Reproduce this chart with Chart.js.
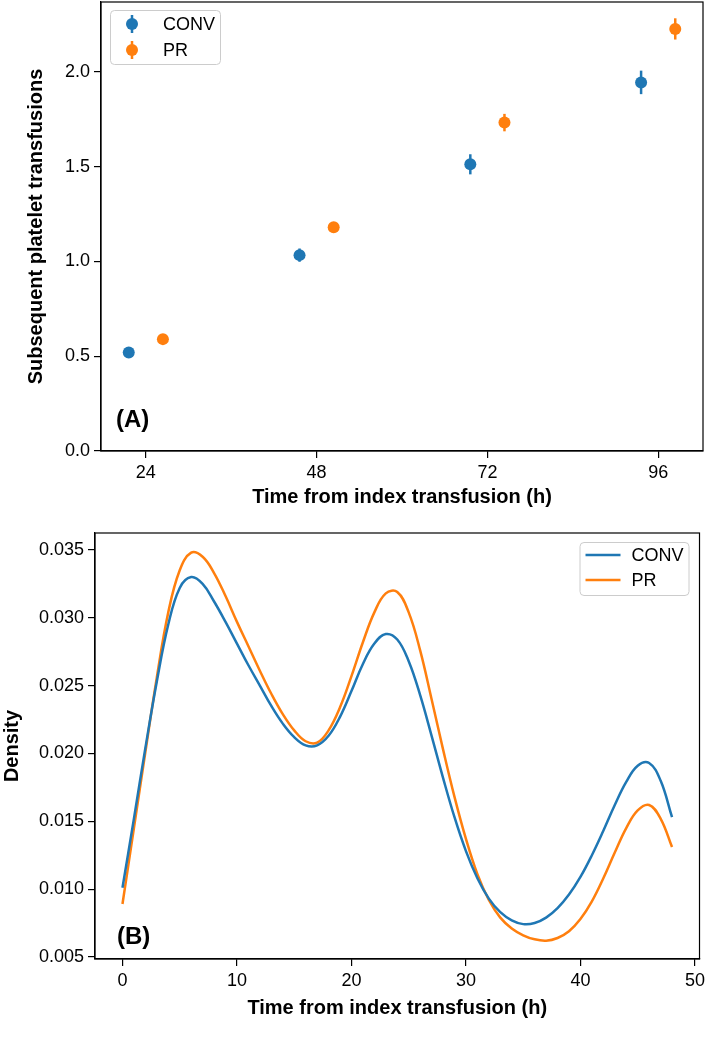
<!DOCTYPE html>
<html>
<head>
<meta charset="utf-8">
<script src="https://cdn.jsdelivr.net/npm/chart.js@4.4.1/dist/chart.umd.min.js"></script>
<style>
  body { margin: 0; background: #fff; overflow: hidden; }
  .panel { position: absolute; left: 0; width: 709px; }
  #panelA { top: -4px; height: 524px; }
  #panelB { top: 520px; height: 532px; }
</style>
</head>
<body>
<div class="panel" id="panelA"><canvas id="chartA" width="709" height="524"></canvas></div>
<div class="panel" id="panelB"><canvas id="chartB" width="709" height="532"></canvas></div>
<script>
// ---- panel A: mean subsequent transfusions with error bars ----
const convTimeA = [21.6, 45.6, 69.6, 93.6];
const prTimeA = [26.4, 50.4, 74.4, 98.4];
const convMeanA = [0.52, 1.033, 1.512, 1.944];
const prMeanA = [0.59, 1.18, 1.732, 2.226];
const convErrA = [0.02, 0.035, 0.053, 0.062];
const prErrA = [0.02, 0.025, 0.046, 0.056];
const xTicksA = [24, 48, 72, 96];
const yTicksA = [0, 0.5, 1.0, 1.5, 2.0];

// ---- panel B: density of transfusion times ----
const hoursB = [0, 1, 2, 3, 4, 5, 6, 7, 8, 9, 10, 11, 12, 13, 14, 15, 16, 17, 18, 19, 20,
  21, 22, 23, 24, 25, 26, 27, 28, 29, 30, 31, 32, 33, 34, 35, 36, 37, 38, 39, 40,
  41, 42, 43, 44, 45, 46, 47, 48];
const convDensity = [0.0101, 0.0152, 0.0204, 0.0253, 0.0295, 0.0322, 0.0330, 0.0325, 0.0312, 0.0297,
  0.0281, 0.0265, 0.0250, 0.0235, 0.0222, 0.0212, 0.0206, 0.0206, 0.0213, 0.0227,
  0.0246, 0.0266, 0.0281, 0.0288, 0.0284, 0.0268, 0.0243, 0.0213, 0.0182, 0.0153,
  0.0128, 0.0108, 0.0093, 0.0083, 0.0077, 0.00742, 0.0075, 0.0079, 0.0086, 0.0096,
  0.0109, 0.0125, 0.0143, 0.0162, 0.0179, 0.0191, 0.0193, 0.0180, 0.0153];
const prDensity = [0.0089, 0.0145, 0.0201, 0.0256, 0.0304, 0.0335, 0.0348, 0.0345, 0.0333, 0.0316,
  0.0297, 0.0279, 0.0261, 0.0244, 0.0229, 0.0217, 0.0209, 0.0208, 0.0217, 0.0234,
  0.0257, 0.0282, 0.0304, 0.0318, 0.0319, 0.0304, 0.0276, 0.0240, 0.0203, 0.0168,
  0.0137, 0.0111, 0.0092, 0.0079, 0.0071, 0.0066, 0.0063, 0.0062, 0.0064, 0.0069,
  0.0078, 0.0091, 0.0108, 0.0127, 0.0145, 0.0158, 0.0162, 0.0152, 0.0131];
const xTicksB = [0, 10, 20, 30, 40, 50];
const yTicksB = [0.005, 0.010, 0.015, 0.020, 0.025, 0.030, 0.035];

const BLUE = "#1f77b4";
const ORANGE = "#ff7f0e";
const FONT = "'Liberation Sans', Arial, sans-serif";

Chart.defaults.font.family = FONT;
Chart.defaults.color = "#000";
Chart.defaults.animation = false;

function axis(min, max, ticks, fmt, title, titlePad, size, horizontal) {
  return {
    type: "linear",
    min: min,
    max: max,
    afterBuildTicks: (s) => { s.ticks = ticks.map(v => ({ value: v })); },
    afterFit: (s) => {
      if (horizontal) {
        s.height = size;
      } else {
        s.width = size;
        s.paddingTop = 0;
        s.paddingBottom = 0;
      }
    },
    grid: { display: true, drawOnChartArea: false, drawTicks: true, tickLength: 7, color: "#000", lineWidth: 1.2 },
    border: { display: true, color: "#000", width: 1.2 },
    ticks: { color: "#000", font: { size: 18 }, padding: 4, maxRotation: 0, autoSkip: false,
      callback: (v) => fmt(v) },
    title: { display: true, text: title, color: "#000", font: { size: 20, weight: "bold" }, padding: titlePad }
  };
}

// black frame round the plot area
const frame = {
  id: "frame",
  afterDraw(c) {
    const { ctx, chartArea: a } = c;
    ctx.save();
    ctx.strokeStyle = "#000";
    ctx.lineWidth = 1.2;
    ctx.strokeRect(a.left, a.top, a.right - a.left, a.bottom - a.top);
    ctx.restore();
  }
};

// vertical error bars, drawn under the markers
const errorBars = {
  id: "errorBars",
  beforeDatasetsDraw(c) {
    const { ctx, scales: { x, y } } = c;
    c.data.datasets.forEach((ds) => {
      if (!ds.errors) return;
      ctx.save();
      ctx.strokeStyle = ds.backgroundColor;
      ctx.lineWidth = 2.5;
      ds.data.forEach((p, i) => {
        const px = x.getPixelForValue(p.x);
        ctx.beginPath();
        ctx.moveTo(px, y.getPixelForValue(p.y - ds.errors[i]));
        ctx.lineTo(px, y.getPixelForValue(p.y + ds.errors[i]));
        ctx.stroke();
      });
      ctx.restore();
    });
  }
};

function boxLegend(id, place, drawMarker) {
  return {
    id: id,
    afterDraw(c) {
      const ctx = c.ctx;
      const b = place(c.chartArea);
      ctx.save();
      ctx.fillStyle = "rgba(255,255,255,0.8)";
      ctx.strokeStyle = "#cccccc";
      ctx.lineWidth = 1;
      ctx.beginPath();
      ctx.roundRect(b.x + 0.5, b.y + 0.5, b.w, b.h, 4);
      ctx.fill();
      ctx.stroke();
      ctx.font = "18px " + FONT;
      ctx.textBaseline = "middle";
      c.data.datasets.forEach((ds, i) => {
        const yy = b.y + b.rows[i];
        drawMarker(ctx, ds.borderColor, b.x + b.mk, yy);
        ctx.fillStyle = "#000";
        ctx.fillText(ds.label, b.x + b.tx, yy + 1);
      });
      ctx.restore();
    }
  };
}

function panelTag(text, dx, dyFromBottom) {
  return {
    id: "tag",
    afterDraw(c) {
      const { ctx, chartArea: a } = c;
      ctx.save();
      ctx.font = "bold 24px " + FONT;
      ctx.fillStyle = "#000";
      ctx.textBaseline = "middle";
      ctx.fillText(text, a.left + dx, a.bottom - dyFromBottom);
      ctx.restore();
    }
  };
}

function toPoints(xs, ys) {
  return xs.map((v, i) => ({ x: v, y: ys[i] }));
}

// ---- chart A ----
new Chart(document.getElementById("chartA"), {
  type: "scatter",
  data: {
    datasets: [
      { label: "CONV", data: toPoints(convTimeA, convMeanA), errors: convErrA,
        backgroundColor: BLUE, borderColor: BLUE, pointRadius: 6, pointBorderWidth: 0 },
      { label: "PR", data: toPoints(prTimeA, prMeanA), errors: prErrA,
        backgroundColor: ORANGE, borderColor: ORANGE, pointRadius: 6, pointBorderWidth: 0 }
    ]
  },
  options: {
    responsive: false,
    devicePixelRatio: 1,
    layout: { padding: { top: 1, right: 2, left: 0, bottom: 0 } },
    plugins: { legend: { display: false }, tooltip: { enabled: false } },
    scales: {
      x: axis(17.7, 102.3, xTicksA, (v) => String(v), "Time from index transfusion (h)",
        { top: 0, bottom: 11 }, 69, true),
      y: axis(0, 2.368, yTicksA, (v) => v.toFixed(1), "Subsequent platelet transfusions",
        { top: 24, bottom: 0 }, 101, false)
    }
  },
  plugins: [
    frame, errorBars,
    panelTag("(A)", 15, 31),
    boxLegend("legendA",
      (a) => ({ x: a.left + 9, y: a.top + 8, w: 110, h: 54, mk: 22, tx: 53, rows: [14, 40] }),
      (ctx, col, x, y) => {
        ctx.strokeStyle = col; ctx.lineWidth = 2.5;
        ctx.beginPath(); ctx.moveTo(x, y - 9); ctx.lineTo(x, y + 9); ctx.stroke();
        ctx.fillStyle = col;
        ctx.beginPath(); ctx.arc(x, y, 6, 0, Math.PI * 2); ctx.fill();
      })
  ]
});

// ---- chart B ----
new Chart(document.getElementById("chartB"), {
  type: "line",
  data: {
    datasets: [
      { label: "CONV", data: toPoints(hoursB, convDensity), borderColor: BLUE, backgroundColor: BLUE,
        borderWidth: 2.5, pointRadius: 0, tension: 0.4, fill: false },
      { label: "PR", data: toPoints(hoursB, prDensity), borderColor: ORANGE, backgroundColor: ORANGE,
        borderWidth: 2.5, pointRadius: 0, tension: 0.4, fill: false }
    ]
  },
  options: {
    responsive: false,
    devicePixelRatio: 1,
    layout: { padding: { top: 13, right: 8, left: 0, bottom: 0 } },
    plugins: { legend: { display: false }, tooltip: { enabled: false } },
    scales: {
      x: axis(-2.4, 50.4, xTicksB, (v) => String(v), "Time from index transfusion (h)",
        { top: 0, bottom: 32 }, 93, true),
      y: axis(0.00485, 0.03625, yTicksB, (v) => v.toFixed(3), "Density",
        { top: 0, bottom: 0 }, 95, false)
    }
  },
  plugins: [
    frame,
    panelTag("(B)", 22, 22),
    boxLegend("legendB",
      (a) => ({ x: a.right - 120, y: a.top + 9, w: 109, h: 53, mk: 6, tx: 52, rows: [13, 38] }),
      (ctx, col, x, y) => {
        ctx.strokeStyle = col; ctx.lineWidth = 2.5;
        ctx.beginPath(); ctx.moveTo(x, y); ctx.lineTo(x + 35, y); ctx.stroke();
      })
  ]
});
</script>
</body>
</html>
